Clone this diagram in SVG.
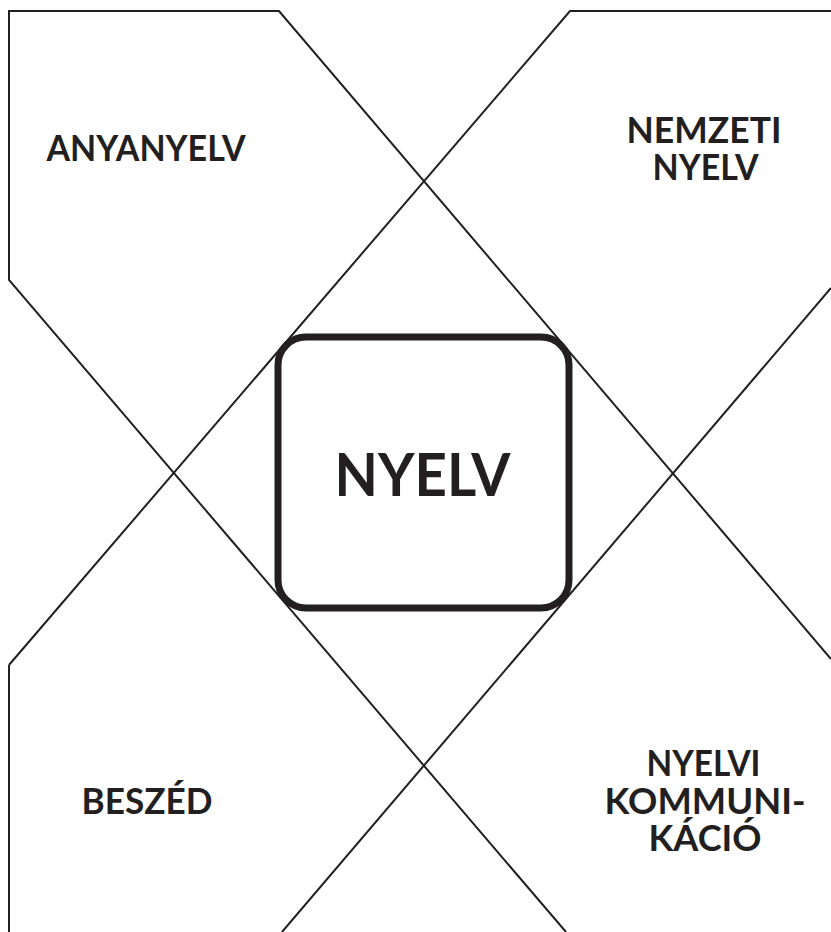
<svg xmlns="http://www.w3.org/2000/svg" width="831" height="932" viewBox="0 0 831 932">
<style>
.ln{fill:none;stroke:#231f20;stroke-width:2;stroke-linejoin:miter}
.box{fill:#fff;stroke:#231f20;stroke-width:7}
.t{font-family:Lato,"Open Sans","Liberation Sans",sans-serif;font-weight:bold;fill:#231f20;text-anchor:middle}
.s{font-size:36px}
.b{font-size:60px}
</style>
<rect width="831" height="932" fill="#fff"/>
<g id="connectors">
<path class="ln" d="M566,932 L9,280 L9,11 L279,11 L831,659"/>
<path class="ln" d="M9,665 L570,11 L831,11"/>
<path class="ln" d="M831,288 L282,932"/>
<path class="ln" d="M9,665 L9,932"/>
</g>
<g id="nyelv">
<rect class="box" x="278" y="337" width="291" height="271" rx="28" ry="28"/>
<text class="t b" x="422.5" y="496" textLength="176" lengthAdjust="spacingAndGlyphs">NYELV</text>
</g>
<g id="anyanyelv">
<text class="t s" x="146" y="161" textLength="199" lengthAdjust="spacingAndGlyphs">ANYANYELV</text>
</g>
<g id="nemzeti-nyelv">
<text class="t s" x="704" y="143" textLength="155" lengthAdjust="spacingAndGlyphs">NEMZETI</text>
<text class="t s" x="705.5" y="180" textLength="106" lengthAdjust="spacingAndGlyphs">NYELV</text>
</g>
<g id="beszed">
<text class="t s" x="147" y="814" textLength="131" lengthAdjust="spacingAndGlyphs">BESZÉD</text>
</g>
<g id="nyelvi-kommunikacio">
<text class="t s" x="703.5" y="776" textLength="114" lengthAdjust="spacingAndGlyphs">NYELVI</text>
<text class="t s" x="705" y="814" textLength="201" lengthAdjust="spacingAndGlyphs">KOMMUNI-</text>
<text class="t s" x="705" y="851" textLength="113" lengthAdjust="spacingAndGlyphs">KÁCIÓ</text>
</g>
</svg>
